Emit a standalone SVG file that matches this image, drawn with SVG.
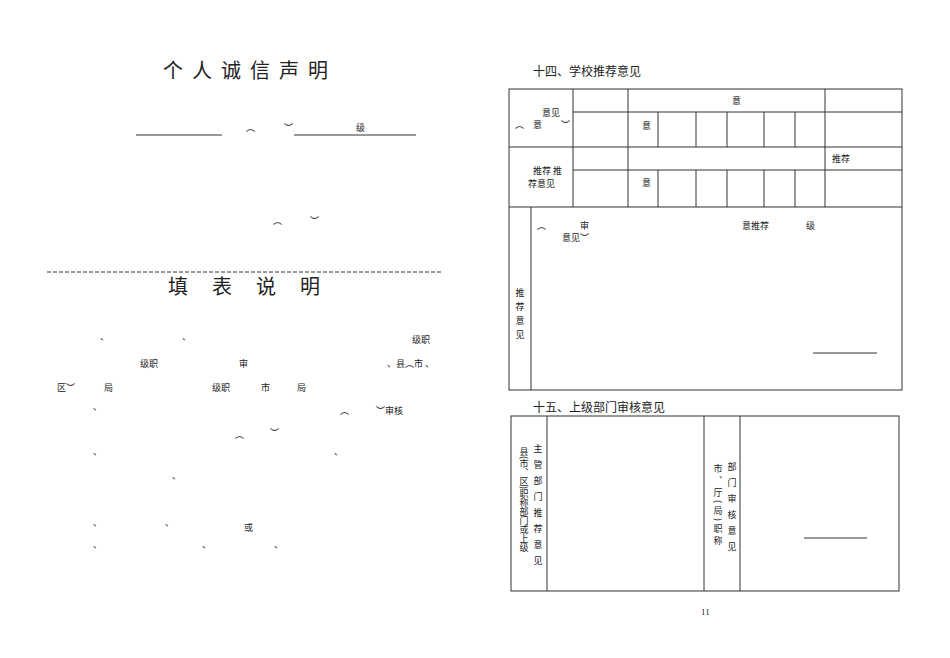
<svg xmlns="http://www.w3.org/2000/svg" width="950" height="658" viewBox="0 0 950 658">
<style>
text{font-family:"Noto Sans CJK SC","Liberation Serif",serif;fill:#222}
.s{font-size:9px}
.h{font-size:12px}
.t{font-size:20px;letter-spacing:9px}
.v{font-size:9px;writing-mode:vertical-rl;letter-spacing:5px}
line,.b{stroke:#333;stroke-width:1;fill:none}
</style>
<rect width="950" height="658" fill="#fff"/>
<g id="left">
<text class="t" x="163" y="78">个人诚信声明</text>
<line x1="136" y1="135" x2="222" y2="135"/>
<line x1="294" y1="135" x2="416" y2="135"/>
<text class="s" x="246" y="131">︵</text><text class="s" x="284" y="131">︶</text>
<text class="s" x="356" y="131">级</text>
<text class="s" x="273" y="224">︵</text><text class="s" x="310" y="224">︶</text>
<line x1="47" y1="272" x2="443" y2="272" stroke-dasharray="4,2"/>
<text class="t" x="168" y="294" style="letter-spacing:24px">填表说明</text>
<g class="s">
<text x="100" y="340">、</text><text x="182" y="340">、</text><text x="412" y="343">级职</text>
<text x="140" y="367">级职</text><text x="239" y="367">审</text><text x="387" y="367">、县︵市 、</text>
<text x="57" y="391">区︶</text><text x="104" y="391">局</text><text x="212" y="391">级职</text><text x="261" y="391">市</text><text x="297" y="391">局</text>
<text x="93" y="410">、</text><text x="340" y="414">︵</text><text x="376" y="414">︶审核</text>
<text x="235" y="438">︵</text><text x="270" y="436">︶</text>
<text x="93" y="455">、</text><text x="334" y="455">、</text>
<text x="172" y="479">、</text>
<text x="93" y="526">、</text><text x="165" y="526">、</text><text x="244" y="531">或</text>
<text x="93" y="548">、</text><text x="202" y="548">、</text><text x="274" y="548">、</text>
</g>
</g>
<g id="table14">
<text class="h" x="533" y="76">十四、学校推荐意见</text>
<rect class="b" x="509" y="89" width="393" height="301"/>
<line x1="573" y1="89" x2="573" y2="207"/>
<line x1="628" y1="89" x2="628" y2="207"/>
<line x1="825" y1="89" x2="825" y2="207"/>
<line x1="573" y1="112" x2="902" y2="112"/>
<line x1="509" y1="147" x2="902" y2="147"/>
<line x1="573" y1="170" x2="902" y2="170"/>
<line x1="509" y1="207" x2="902" y2="207"/>
<line x1="658" y1="112" x2="658" y2="147"/><line x1="696" y1="112" x2="696" y2="147"/><line x1="727" y1="112" x2="727" y2="147"/><line x1="764" y1="112" x2="764" y2="147"/><line x1="795" y1="112" x2="795" y2="147"/>
<line x1="658" y1="170" x2="658" y2="207"/><line x1="696" y1="170" x2="696" y2="207"/><line x1="727" y1="170" x2="727" y2="207"/><line x1="764" y1="170" x2="764" y2="207"/><line x1="795" y1="170" x2="795" y2="207"/>
<line x1="531" y1="207" x2="531" y2="390"/>
<line x1="813" y1="353" x2="877" y2="353"/>
<g class="s">
<text x="542" y="116">意见</text>
<text x="515" y="128">︵</text><text x="533" y="128">意</text><text x="561" y="128">︶</text>
<text x="732" y="104">意</text>
<text x="642" y="129">意</text>
<text x="832" y="162">推荐</text>
<text x="533" y="174">推荐  推</text>
<text x="528" y="187">荐意见</text>
<text x="642" y="186">意</text>
<text x="537" y="229">︵</text><text x="580" y="229">审</text>
<text x="562" y="241">意见︶</text>
<text x="742" y="229">意推荐</text><text x="806" y="229">级</text>
<text class="v" x="520" y="288">推荐意见</text>
</g>
</g>
<g id="table15">
<text class="h" x="533" y="412">十五、上级部门审核意见</text>
<rect class="b" x="511" y="416" width="388" height="175"/>
<line x1="547" y1="416" x2="547" y2="591"/>
<line x1="704" y1="416" x2="704" y2="591"/>
<line x1="740" y1="416" x2="740" y2="591"/>
<line x1="804" y1="538" x2="867" y2="538"/>
<text class="v" x="524" y="447" style="letter-spacing:0px">县(市、区)职称部门或上级</text>
<text class="v" x="538" y="444" style="letter-spacing:7px">主管部门推荐意见</text>
<text class="v" x="718" y="464" style="letter-spacing:3px">市、厅(局)职称</text>
<text class="v" x="732" y="462" style="letter-spacing:7px">部门审核意见</text>
<text class="s" x="701" y="615" style="font-family:'Liberation Serif',serif">11</text>
</g>
</svg>
